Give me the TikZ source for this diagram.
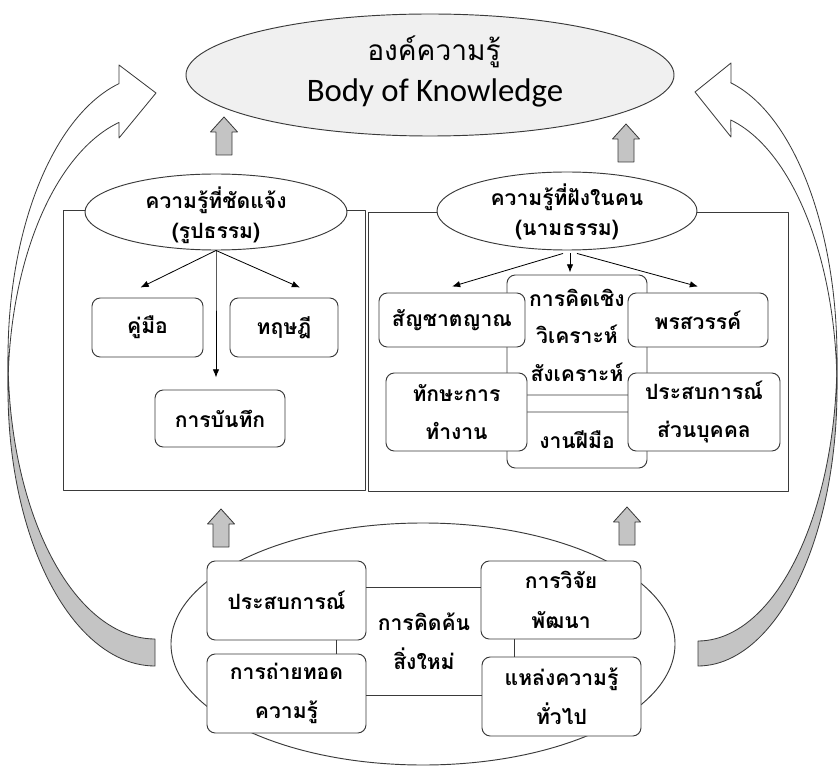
\documentclass[tikz,border=0pt]{standalone}
\usepackage{fontspec}
\setmainfont{Carlito}
\newfontfamily\thai[Script=Thai]{Loma}
\usetikzlibrary{shapes.geometric,arrows.meta,calc}
\definecolor{ln}{HTML}{3A3A3A}
\definecolor{bandgray}{HTML}{C4C4C4}
\definecolor{topfill}{HTML}{F0F0F0}
\newcommand\thaitxt{\thai\bfseries\fontsize{18pt}{32pt}\selectfont}
\newcommand\thaiell{\thai\bfseries\fontsize{18pt}{26pt}\selectfont}
\newcommand\thaibot{\thai\bfseries\fontsize{18pt}{33.5pt}\selectfont}
\tikzset{
  rbox/.style={draw=ln, line width=0.8pt, rounded corners=0.25cm, fill=white, inner sep=0pt, align=center, font=\thaitxt},
  frame/.style={draw=ln, line width=0.8pt, inner sep=0pt},
  ell/.style={ellipse, draw=ln, line width=0.8pt, fill=white, inner sep=0pt},
  txt/.style={inner sep=0pt, align=center},
  arr/.style={draw=black, line width=0.7pt, -{Latex[length=7pt,width=5.5pt]}},
  conn/.style={draw=ln, line width=0.8pt},
  band/.style={draw=ln, line width=0.7pt},
  uparr/.pic={\filldraw[fill=bandgray, draw=ln, line width=0.7pt] (-8,0) -- (-8,-23) -- (-13.5,-23) -- (0,-38) -- (13.5,-23) -- (8,-23) -- (8,0) -- cycle;}
}
\begin{document}
\begin{tikzpicture}[x=0.03cm, y=-0.03cm, line join=round]
\useasboundingbox (0,0) rectangle (838,766);

% curved arrows
\filldraw[band, fill=white]
  (119,138) -- (156,93) -- (119,65) -- (119,83.6)
  -- plot[domain=104.2:180, samples=50] ({155+147*cos(\x)},{357-282*sin(\x)})
  -- plot[domain=180:104.2, samples=50] ({155+147*cos(\x)},{390-276*sin(\x)})
  -- cycle;
\filldraw[band, fill=bandgray]
  plot[domain=180:270, samples=50] ({155+147*cos(\x)},{357-282*sin(\x)})
  -- plot[domain=270:180, samples=50] ({155+147*cos(\x)},{390-276*sin(\x)})
  -- cycle;
\filldraw[band, fill=white]
  (731,137) -- (695,92) -- (731,63) -- (731,82.7)
  -- plot[domain=103.6:180, samples=50] ({698-139*cos(\x)},{357.9-283.1*sin(\x)})
  -- plot[domain=180:103.6, samples=50] ({698-139*cos(\x)},{389.1-276.9*sin(\x)})
  -- cycle;
\filldraw[band, fill=bandgray]
  plot[domain=180:270, samples=50] ({698-139*cos(\x)},{357.9-283.1*sin(\x)})
  -- plot[domain=270:180, samples=50] ({698-139*cos(\x)},{389.1-276.9*sin(\x)})
  -- cycle;

% top ellipse
\node[ell, fill=topfill, minimum width=14.64cm, minimum height=3.66cm] (K) at (430,75) {};
\node[txt, font=\thai\fontsize{24pt}{30pt}\selectfont] (K1) at (434,52) {องค์ความรู้};
\node[txt, font=\fontsize{28pt}{34pt}\selectfont] (K2) at (435,93) {Body of Knowledge};

\pic at (224,155) {uparr};
\pic at (626,162) {uparr};

% frames
\node[frame, minimum width=9.06cm, minimum height=8.4cm] (LB) at (214,350) {};
\node[frame, minimum width=12.6cm, minimum height=8.37cm] (RB) at (578,351.5) {};

% left ellipse
\node[ell, minimum width=7.86cm, minimum height=2.28cm] (L) at (216,212) {};
\node[txt, font=\thaiell] (Lt) at ($(L)+(0,3)$) {ความรู้ที่ชัดแจ้ง\\(รูปธรรม)};
% right ellipse
\node[ell, minimum width=7.8cm, minimum height=2.34cm] (R) at (567,211) {};
\node[txt, font=\thaiell] (Rt) at ($(R)+(0,1)$) {ความรู้ที่ฝังในคน\\(นามธรรม)};

% left items
\node[rbox, minimum width=3.33cm, minimum height=1.77cm] (k1) at (147.5,327.5) {คู่มือ};
\node[rbox, minimum width=3.24cm, minimum height=1.77cm] (k2) at (284,327.5) {ทฤษฎี};
\node[rbox, minimum width=3.9cm, minimum height=1.71cm] (k3) at (220,418.5) {การบันทึก};
\coordinate (ak1) at ($(k1.north)+(-7,-10)$);
\coordinate (ak2) at ($(k2.north)+(16,-10)$);
\coordinate (ak3) at ($(k3.north)+(-4,-12)$);
\draw[arr] (L.south) -- (ak1);
\draw[arr] (L.south) -- (ak2);
\draw[arr] (L.south) -- (ak3 |- 0,253) -- (ak3);

% right items
\node[rbox, minimum width=4.2cm, minimum height=3.6cm] (c1) at (577,335) {};
\node[txt, font=\thaitxt] (c1t) at (577,335) {การคิดเชิง\\วิเคราะห์\\สังเคราะห์};
\node[rbox, minimum width=4.2cm, minimum height=1.68cm] (c2) at (577,440) {งานฝีมือ};
\node[rbox, minimum width=4.38cm, minimum height=1.62cm] (s1) at (452,320) {สัญชาตญาณ};
\node[rbox, minimum width=4.2cm, minimum height=1.62cm] (s2) at (698,320) {พรสวรรค์};
\node[rbox, minimum width=4.23cm, minimum height=2.34cm] (s3) at (456.5,412) {ทักษะการ\\ทำงาน};
\node[rbox, minimum width=4.56cm, minimum height=2.34cm] (s4) at (704,412) {ประสบการณ์\\ส่วนบุคคล};
\coordinate (as1) at ($(s1.north)+(0,-6)$);
\coordinate (as2) at ($(s2.north)+(0,-6)$);
\coordinate (ac1) at ($(c1.north)+(-7,-2)$);
\draw[arr] ($(R.south)+(-4,3)$) -- (as1);
\draw[arr] ($(R.south)+(3,3)$) -- (ac1);
\draw[arr] ($(R.south)+(10,3)$) -- (as2);

\pic at (221,547) {uparr};
\pic at (627,545) {uparr};

% bottom ellipse
\node[ell, minimum width=15.12cm, minimum height=7.26cm] (B) at (423,644) {};
\node[rbox, font=\thaibot, minimum width=4.77cm, minimum height=2.37cm] (b1) at (286.5,600.5) {ประสบการณ์};
\node[rbox, font=\thaibot, minimum width=4.77cm, minimum height=2.37cm] (b2) at (286.5,693.5) {การถ่ายทอด\\ความรู้};
\node[rbox, font=\thaibot, minimum width=4.8cm, minimum height=2.34cm] (b3) at (561,600) {การวิจัย\\พัฒนา};
\node[rbox, font=\thaibot, minimum width=4.77cm, minimum height=2.37cm] (b4) at (561.5,696.5) {แหล่งความรู้\\ทั่วไป};
\node[txt, font=\thaibot] (ci) at (424,641) {การคิดค้น\\สิ่งใหม่};
\coordinate (t1) at ($(b1.east)+(0,-13.5)$);
\coordinate (t2) at ($(b2.east)+(0,1.5)$);
\coordinate (t3) at ($(b1.south)+(49.5,0)$);
\coordinate (t4) at ($(b3.south)+(-47,0)$);
\draw[conn] (t1) -- (t1 -| b3.west);
\draw[conn] (t2) -- (t2 -| b4.west);
\draw[conn] (t3) -- (t3 |- b2.north);
\draw[conn] (t4) -- (t4 |- b4.north);
\end{tikzpicture}
\end{document}
